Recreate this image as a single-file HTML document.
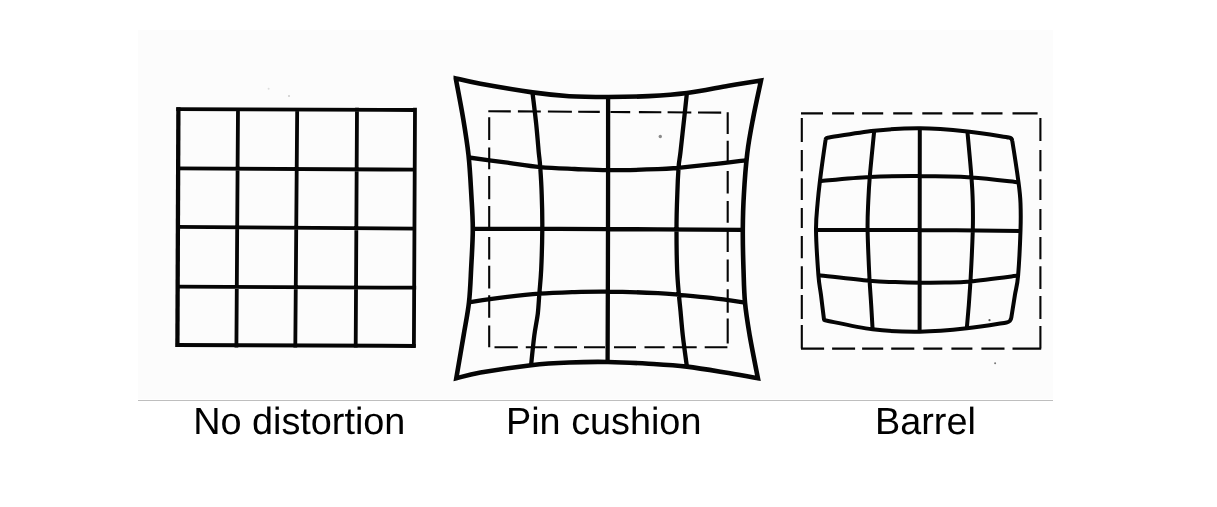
<!DOCTYPE html>
<html><head><meta charset="utf-8"><title>Distortion</title>
<style>
html,body{margin:0;padding:0;background:#fff;}
body{width:1217px;height:507px;overflow:hidden;position:relative;font-family:"Liberation Sans",Arial,sans-serif;}
svg{position:absolute;left:0;top:0;display:block;will-change:transform}
text{font-family:"Liberation Sans",Arial,sans-serif;font-size:37.8px;fill:#000;text-rendering:geometricPrecision}
</style></head><body>
<svg width="1217" height="507" viewBox="0 0 1217 507">
<rect x="138" y="30" width="915" height="368.8" fill="#fcfcfc"/>
<rect x="138" y="400" width="915" height="1" fill="#bebebe"/>
<g fill="none" stroke="#050505" stroke-linecap="square" stroke-linejoin="miter">
<path stroke-width="3.8" stroke-linecap="butt" d="M238,107.8 L236.4,347.4 M297.2,107.8 L295.3,347.4 M357,107.8 L355.7,347.4 M415,107.8 L413.9,347.4 M176.29999999999998,109.2 L416.2,110 M176.29999999999998,168.3 L416.2,169.7 M176.29999999999998,226.9 L416.2,228.6 M176.29999999999998,286.7 L416.2,287.7"/>
<path stroke-width="4.0" stroke-linecap="butt" d="M175.79999999999998,344.9 L415.7,346.0"/>
<path stroke-width="4.3" stroke-linecap="butt" d="M178.4,107.3 L177.4,346.9"/>
<path stroke-width="4.6" stroke-linejoin="miter" stroke-miterlimit="10" d="M455.8,78.4 C459.9,79.3 467.7,81.5 480.5,83.8 C493.3,86.1 517.7,90.3 532.5,92.4 C547.3,94.5 556.6,95.4 569.2,96.2 C581.8,97.0 595.0,97.0 608.2,97.0 C621.5,97.0 635.6,96.8 648.7,96.1 C661.8,95.4 673.6,94.7 686.9,93.0 C700.2,91.3 716.2,87.9 728.6,85.8 C741.0,83.7 755.6,81.4 761.0,80.5 C759.7,86.8 755.4,106.1 753.1,118.2 C750.8,130.3 748.8,140.3 747.3,153.0 C745.8,165.7 744.6,181.7 743.9,194.4 C743.1,207.2 742.9,217.0 742.8,229.5 C742.7,242.0 743.1,257.2 743.5,269.4 C743.9,281.6 744.0,291.5 745.0,302.5 C746.0,313.5 747.6,322.9 749.7,335.5 C751.9,348.1 756.5,371.1 757.9,378.2 C753.0,377.3 740.4,374.9 728.6,373.0 C716.8,371.1 700.2,368.2 686.9,366.6 C673.6,365.1 661.9,364.5 648.7,363.7 C635.6,362.9 621.2,362.2 608.0,362.0 C594.8,361.8 582.0,362.0 569.2,362.5 C556.4,363.0 545.9,363.5 531.1,365.2 C516.3,366.9 493.0,370.4 480.5,372.6 C468.0,374.8 460.3,377.3 456.3,378.2 C457.5,371.1 461.5,348.1 463.6,335.5 C465.7,322.9 467.8,313.3 469.0,302.3 C470.2,291.3 470.5,281.6 471.1,269.4 C471.7,257.2 472.8,241.5 472.8,229.0 C472.8,216.5 472.0,206.7 471.3,194.4 C470.6,182.1 469.9,167.7 468.5,155.0 C467.1,142.3 465.2,130.9 463.1,118.2 C461.0,105.5 457.0,85.2 455.8,78.6 Z"/>
<path stroke-width="4.3" stroke-linecap="butt" d="M532.5,92.4 C533.1,97.8 535.3,115.1 536.3,125.0 C537.3,134.9 538.1,145.1 538.7,152.0 C539.4,158.9 539.7,159.6 540.2,166.7 C540.7,173.8 541.4,184.0 541.7,194.4 C542.1,204.8 542.4,216.5 542.3,229.0 C542.2,241.5 541.7,258.8 541.2,269.4 C540.7,280.0 540.0,285.4 539.4,292.8 C538.8,300.2 538.6,306.6 537.8,313.7 C536.9,320.8 535.4,326.9 534.3,335.5 C533.2,344.1 531.6,360.2 531.1,365.2 M686.9,93.0 C686.5,97.2 685.3,108.4 684.2,118.2 C683.1,128.0 681.4,143.9 680.5,152.0 C679.6,160.1 679.1,159.9 678.6,167.0 C678.1,174.1 677.6,184.0 677.3,194.4 C676.9,204.8 676.5,217.0 676.5,229.5 C676.5,242.0 676.7,258.5 677.1,269.4 C677.5,280.3 678.3,287.7 678.9,294.8 C679.5,301.9 680.0,305.2 680.6,312.0 C681.2,318.8 681.8,326.4 682.8,335.5 C683.8,344.6 686.2,361.4 686.9,366.6 M608.1,97.0 C608.1,119.0 608.1,184.8 608.0,229.0 C607.9,273.2 607.7,339.8 607.6,362.0 M468.8,157.5 C474.9,158.3 493.4,160.8 505.3,162.4 C517.2,164.0 528.7,166.0 540.2,167.1 C551.8,168.2 563.3,168.5 574.6,169.0 C585.9,169.5 594.3,170.2 608.2,170.2 C622.1,170.2 646.3,169.6 658.0,169.2 C669.7,168.8 669.5,168.6 678.3,167.8 C687.1,167.0 699.8,165.7 711.0,164.4 C722.2,163.2 739.8,161.0 745.6,160.3 M472.8,228.8 C495.3,228.9 563.0,228.9 608.0,229.1 C653.0,229.3 720.3,229.7 742.8,229.8 M469.0,302.3 C475.1,301.4 493.6,298.6 505.3,297.2 C517.0,295.8 527.9,294.5 539.4,293.7 C550.9,292.9 563.2,292.5 574.6,292.1 C586.0,291.8 594.1,291.4 608.0,291.6 C621.9,291.8 646.2,292.6 658.0,293.1 C669.8,293.6 670.1,294.0 678.9,294.8 C687.7,295.6 700.0,296.6 711.0,297.9 C722.0,299.2 739.3,301.7 745.0,302.5"/>
<path stroke-width="4" stroke-linejoin="miter" stroke-miterlimit="10" d="M827.6,137.7 C835.3,136.6 858.7,132.3 874.2,130.7 C889.7,129.1 904.8,128.2 920.3,128.3 C935.8,128.4 952.6,130.0 967.4,131.5 C982.2,133.0 1002.0,136.6 1008.9,137.6 Q1011.9,138.0 1012.3,141.0 C1013.4,147.8 1017.1,171.8 1018.5,182.2 C1019.9,192.6 1020.2,195.1 1020.5,203.2 C1020.8,211.2 1020.9,218.4 1020.5,230.5 C1020.1,242.6 1019.0,264.8 1018.1,275.6 C1017.2,286.4 1016.0,288.1 1014.9,295.1 C1013.8,302.1 1011.9,314.1 1011.3,317.8 Q1010.7,321.8 1006.7,322.4 C1000.1,323.4 981.3,326.7 966.8,328.3 C952.3,329.9 935.4,331.5 919.7,331.7 C904.0,331.9 888.4,331.2 872.6,329.3 C856.8,327.4 832.8,321.8 824.9,320.3 Q824.1,320.2 824.0,319.4 C823.5,315.4 821.9,302.5 821.0,295.1 C820.1,287.7 819.2,286.0 818.4,275.2 C817.6,264.4 816.1,242.1 816.0,230.1 C815.9,218.1 816.9,211.5 817.6,203.2 C818.3,194.9 818.7,191.1 820.0,180.5 C821.3,169.9 824.6,146.6 825.6,139.8 Q825.8,138.0 827.6,137.7 Z"/>
<path stroke-width="4" stroke-linecap="butt" d="M874.2,130.7 C873.5,138.3 870.8,164.4 869.8,176.5 C868.8,188.6 868.6,194.3 868.2,203.2 C867.8,212.1 867.4,217.8 867.6,230.1 C867.8,242.4 868.8,264.5 869.4,277.0 C870.0,289.5 870.7,296.4 871.2,305.1 C871.7,313.8 872.4,325.3 872.6,329.3 M967.4,131.5 C968.1,139.0 970.5,164.6 971.4,176.5 C972.3,188.4 972.6,194.2 972.8,203.2 C973.0,212.2 973.1,218.0 972.8,230.3 C972.4,242.6 971.4,264.5 970.7,277.0 C970.0,289.5 969.4,296.6 968.8,305.1 C968.1,313.7 967.1,324.4 966.8,328.3 M919.8,128.3 C919.8,162.2 919.6,297.8 919.6,331.7 M820.0,181.0 C828.3,180.3 853.1,177.7 869.8,176.9 C886.5,176.1 903.4,175.9 920.3,176.0 C937.2,176.1 955.0,176.4 971.4,177.4 C987.8,178.4 1010.6,181.4 1018.5,182.2 M816.0,230.1 C833.4,230.1 886.2,229.9 920.3,230.1 C954.4,230.2 1003.8,230.8 1020.5,231.0 M818.4,275.2 C826.9,276.1 856.4,279.6 869.2,280.8 C882.0,282.0 886.5,281.8 895.0,282.1 C903.5,282.4 912.0,282.6 920.3,282.7 C928.6,282.8 936.6,282.8 945.0,282.6 C953.4,282.4 958.2,282.6 970.4,281.4 C982.6,280.2 1010.1,276.6 1018.1,275.6"/>
<path stroke-width="2.1" stroke-linecap="butt" d="M488.3,111.20 L510.8,111.34 M517.9,111.39 L540.8,111.53 M547.9,111.57 L571.9,111.72 M578.2,111.76 L599.8,111.90 M610.5,111.97 L630.2,112.09 M638.9,112.14 L661.3,112.28 M667.6,112.32 L691.3,112.47 M698,112.51 L721.2,112.66 M494.5,347.2 H517.8 M525.8,347.2 H547.1 M554.2,347.2 H577 M584,347.2 H605 M614,347.2 H636 M644.5,347.2 H664.7 M672.7,347.2 H696.7 M704.7,347.2 H727.4 M489.2,117.2 V139.9 M489.2,147.4 V169.2 M489.2,175.9 V199.2 M489.2,206 V227.7 M489.2,237 V259.6 M489.2,265.8 V288.5 M489.2,295.2 V317.8 M489.2,325.4 V347.2 M727.7,112.2 V134 M727.7,140.7 V161.6 M727.7,170.9 V193.4 M727.7,200.9 V222.7 M727.7,231 V252 M727.7,259.6 V281.8 M727.7,289.3 V312.8 M727.7,318.6 V343.5 M801,113.4 H823 M832.1,113.4 H854.1 M862.1,113.4 H883.2 M893.2,113.4 H912.3 M922.3,113.4 H942.3 M952.4,113.4 H973.4 M981.4,113.4 H1002.5 M1012.5,113.4 H1037.6 M801,348.6 H824.1 M832.1,348.6 H855.1 M862.1,348.6 H883.2 M891.2,348.6 H914.3 M923.3,348.6 H942.3 M951.4,348.6 H972.4 M981.4,348.6 H1004.5 M1012.5,348.6 H1041.2 M801.8,118 V142.1 M801.8,150.1 V171.2 M801.8,178.2 V200 M801.8,208.1 V228.1 M801.8,236.1 V258.2 M801.8,266.2 V289 M801.8,295 V319 M801.8,325 V348.6 M1040.4,118 V141.1 M1040.4,150.1 V171.2 M1040.4,179.2 V200 M1040.4,209.1 V230.1 M1040.4,237.1 V259.2 M1040.4,266.2 V289 M1040.4,296 V319 M1040.4,326 V348.6"/>
</g>
<g fill="#555">
<circle cx="660.3" cy="136.5" r="1.7" fill="#8a8a8a"/>
<circle cx="989.5" cy="320.2" r="1.1"/>
<circle cx="995.1" cy="363.3" r="1" fill="#777"/>
<circle cx="268.6" cy="88.8" r="1" fill="#ddd"/>
<circle cx="289" cy="96" r="1" fill="#ccc"/>
</g>
<text x="193.2" y="434.1">No distortion</text>
<text x="506" y="434.1">Pin cushion</text>
<text x="875" y="434.1">Barrel</text>
</svg>
</body></html>
